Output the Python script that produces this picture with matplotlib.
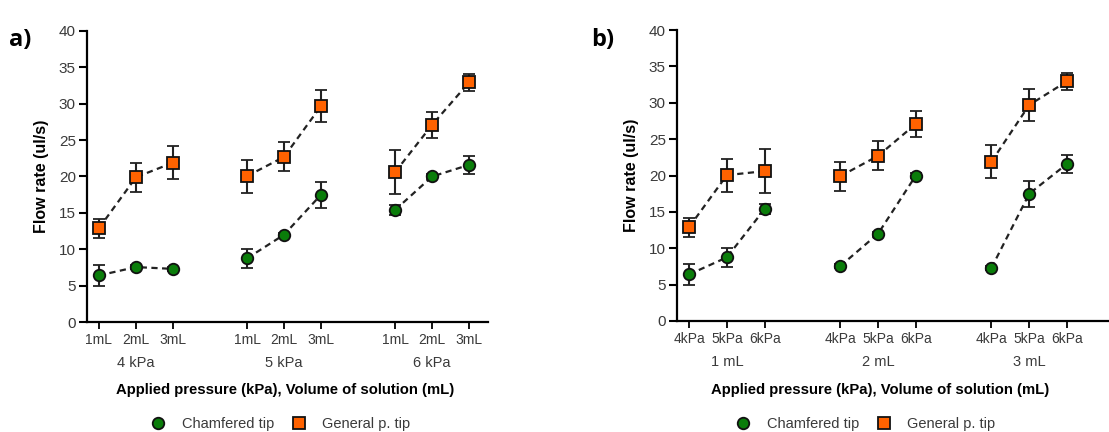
import matplotlib

matplotlib.use("Agg")
import matplotlib.pyplot as plt
import matplotlib.transforms as mtransforms
import numpy as np
from matplotlib.lines import Line2D

plt.rcParams["font.family"] = ["Liberation Sans", "DejaVu Sans"]

# rows: applied pressure (4, 5, 6 kPa); columns: volume (1, 2, 3 mL)
pressures = ["4 kPa", "5 kPa", "6 kPa"]
volumes = ["1 mL", "2 mL", "3 mL"]
pressure_ticks = ["4kPa", "5kPa", "6kPa"]
volume_ticks = ["1mL", "2mL", "3mL"]

chamfered_mean = np.array([[6.4, 7.55, 7.3], [8.75, 12.0, 17.5], [15.4, 20.0, 21.6]])
chamfered_err = np.array([[1.5, 0.3, 0.3], [1.3, 0.3, 1.8], [0.7, 0.3, 1.2]])
general_mean = np.array([[12.9, 19.9, 21.9], [20.05, 22.7, 29.7], [20.6, 27.1, 32.95]])
general_err = np.array([[1.3, 2.0, 2.3], [2.25, 2.0, 2.25], [3.0, 1.75, 1.2]])

GREEN = "#0a7d0a"
ORANGE = "#ff6200"
TEXT = "#3a3a3a"


def draw_panel(ax, chamf, chamf_e, gen, gen_e, inner_ticks, group_labels, xlim):
    positions = []
    for g in range(3):
        x = 1 + 4 * g + np.arange(3)
        positions.extend(x)
        for mean, err, marker, color in (
            (gen[g], gen_e[g], "s", ORANGE),
            (chamf[g], chamf_e[g], "o", GREEN),
        ):
            ax.errorbar(
                x, mean, yerr=err, fmt=marker, ls=(0, (2.8, 2.0)), color="#222222",
                lw=1.6, mfc=color, mec="#111111", mew=1.3, ms=8.3,
                ecolor="#222222", elinewidth=1.5, capsize=4.5, capthick=1.5,
            )
    ax.set_xticks(positions)
    ax.set_xticklabels(inner_ticks * 3)
    trans = mtransforms.blended_transform_factory(ax.transData, ax.transAxes)
    for g, label in enumerate(group_labels):
        ax.text(2 + 4 * g, -0.14, label, transform=trans, ha="center", va="center",
                fontsize=10.5, color=TEXT)

    ax.set_xlim(*xlim)
    ax.set_ylim(0, 40)
    ax.set_yticks(range(0, 41, 5))
    ax.spines[["top", "right"]].set_visible(False)
    ax.spines[["left", "bottom"]].set_linewidth(1.6)
    ax.tick_params(axis="y", length=6, width=1.5, labelsize=11, labelcolor=TEXT, pad=2)
    ax.tick_params(axis="x", length=5, width=1.3, labelsize=10, labelcolor=TEXT, pad=3)
    ax.set_ylabel("Flow rate (ul/s)", fontsize=11.5, fontweight="bold", labelpad=7)


fig = plt.figure(figsize=(11.09, 4.32), dpi=100)
ax_a = fig.add_axes([87 / 1109, 1 - 322 / 432, (488 - 87) / 1109, 291 / 432])
ax_b = fig.add_axes([677 / 1109, 1 - 321 / 432, (1109 - 677) / 1109, 291 / 432])

draw_panel(ax_a, chamfered_mean, chamfered_err, general_mean, general_err,
           volume_ticks, pressures, (0.676, 11.51))
draw_panel(ax_b, chamfered_mean.T, chamfered_err.T, general_mean.T, general_err.T,
           pressure_ticks, volumes, (0.68, 12.11))

handles = [
    Line2D([], [], ls="none", marker="o", ms=8.3, mfc=GREEN, mec="#111111", mew=1.3),
    Line2D([], [], ls="none", marker="s", ms=8.3, mfc=ORANGE, mec="#111111", mew=1.3),
]
names = ["Chamfered tip", "General p. tip"]

for cx, letter, lx in ((285, "a)", 9), (880, "b)", 591)):
    fig.text(cx / 1109, 1 - 390 / 432, "Applied pressure (kPa), Volume of solution (mL)",
             ha="center", va="center", fontsize=10.7, fontweight="bold")
    fig.text(lx / 1109, 1 - 40 / 432, letter, ha="left", va="center",
             fontsize=17, fontweight="bold", family=["Open Sans", "DejaVu Sans"])

for cx in (277, 862):
    fig.legend(handles, names, loc="center", bbox_to_anchor=(cx / 1109, 1 - 424 / 432),
               ncol=2, frameon=False, fontsize=10.5, handletextpad=0.6, columnspacing=0.7,
               labelcolor=TEXT)

fig.savefig("out.png", dpi=100)
